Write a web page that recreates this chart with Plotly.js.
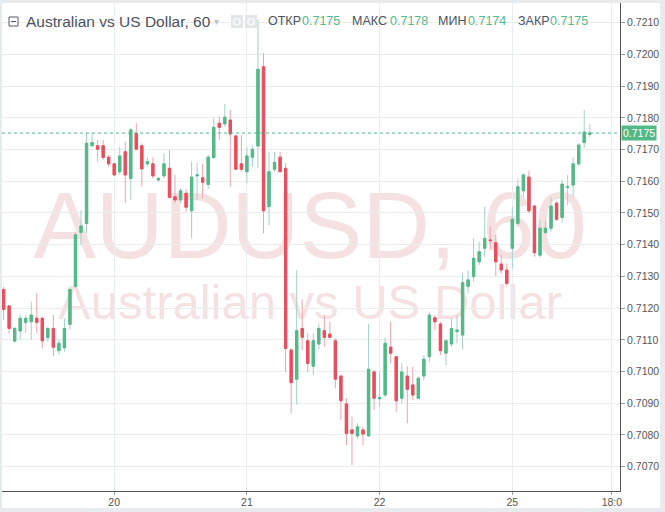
<!DOCTYPE html>
<html>
<head>
<meta charset="utf-8">
<script src="https://cdn.plot.ly/plotly-3.0.1.min.js"></script>
<style>
  html, body { margin: 0; padding: 0; background: #e8ebee; width: 665px; height: 512px; overflow: hidden; }
  #chart { position: absolute; left: 2px; top: 3px; width: 658px; height: 505px; background: #ffffff; }
</style>
</head>
<body>
<div id="chart"></div>
<script>
// ---- data (hourly AUDUSD candles) ----
const symbol = "AUDUSD";
const interval = "60";
const description = "Australian vs US Dollar";

const openPrices = [
  0.71259,0.71207,0.71096,0.71128,0.71155,0.71157,0.71168,0.71168,0.71107,0.71136,
  0.71066,0.71075,0.71149,0.71268,0.71439,0.71467,0.71712,0.71712,0.71712,0.71676,
  0.71655,0.71630,0.71693,0.71609,0.71751,0.71712,0.71655,0.71655,0.71604,0.71617,
  0.71641,0.71551,0.71541,0.71562,0.71507,0.71617,0.71611,0.71590,0.71675,0.71783,
  0.71781,0.71793,0.71743,0.71655,0.71630,0.71676,0.71711,0.71961,0.71520,0.71638,
  0.71676,0.71641,0.71068,0.70976,0.71136,0.71097,0.71017,0.71087,0.71129,0.71118,
  0.71097,0.70986,0.70898,0.70816,0.70797,0.70816,0.70797,0.70999,0.70914,0.70926,
  0.71077,0.71047,0.70916,0.70986,0.70958,0.70916,0.70986,0.71047,0.71170,0.71150,
  0.71058,0.71087,0.71126,0.71115,0.71268,0.71299,0.71346,0.71389,0.71415,0.71406,
  0.71339,0.71320,0.71389,0.71467,0.71570,0.71613,0.71522,0.71367,0.71438,0.71452,
  0.71531,0.71486,0.71581,0.71588,0.71655,0.71722,0.71748
];
const highPrices = [
  0.71267,0.71210,0.71141,0.71178,0.71178,0.71220,0.71247,0.71173,0.71141,0.71178,
  0.71101,0.71168,0.71268,0.71441,0.71509,0.71751,0.71751,0.71730,0.71730,0.71683,
  0.71657,0.71709,0.71725,0.71768,0.71783,0.71720,0.71676,0.71676,0.71614,0.71688,
  0.71699,0.71620,0.71578,0.71575,0.71662,0.71657,0.71655,0.71683,0.71799,0.71804,
  0.71844,0.71825,0.71746,0.71746,0.71709,0.71714,0.72110,0.72004,0.71693,0.71693,
  0.71693,0.71657,0.71073,0.71320,0.71228,0.71121,0.71121,0.71152,0.71178,0.71157,
  0.71105,0.70989,0.70916,0.70858,0.70837,0.70826,0.71150,0.71005,0.70999,0.71108,
  0.71157,0.71049,0.71026,0.71017,0.71015,0.70984,0.71052,0.71189,0.71178,0.71157,
  0.71101,0.71168,0.71178,0.71310,0.71320,0.71420,0.71409,0.71520,0.71457,0.71431,
  0.71367,0.71341,0.71520,0.71609,0.71625,0.71633,0.71525,0.71478,0.71475,0.71551,
  0.71536,0.71604,0.71620,0.71676,0.71720,0.71825,0.71780
];
const lowPrices = [
  0.71163,0.71121,0.71091,0.71101,0.71122,0.71100,0.71121,0.71073,0.71094,0.71049,
  0.71052,0.71063,0.71133,0.71263,0.71399,0.71436,0.71709,0.71662,0.71667,0.71646,
  0.71617,0.71620,0.71531,0.71541,0.71699,0.71583,0.71646,0.71609,0.71599,0.71609,
  0.71546,0.71531,0.71531,0.71504,0.71420,0.71541,0.71546,0.71575,0.71670,0.71730,
  0.71772,0.71583,0.71636,0.71630,0.71594,0.71646,0.71641,0.71436,0.71462,0.71630,
  0.71629,0.70999,0.70868,0.70895,0.71068,0.70999,0.70989,0.71070,0.71078,0.71105,
  0.70947,0.70847,0.70768,0.70705,0.70788,0.70768,0.70795,0.70879,0.70889,0.70921,
  0.71026,0.70873,0.70900,0.70837,0.70910,0.70913,0.70973,0.71031,0.71131,0.71052,
  0.71021,0.71078,0.71089,0.71070,0.71247,0.71283,0.71336,0.71362,0.71383,0.71301,
  0.71308,0.71268,0.71326,0.71457,0.71551,0.71499,0.71362,0.71360,0.71436,0.71441,
  0.71475,0.71469,0.71525,0.71551,0.71648,0.71704,0.71740
];
const closePrices = [
  0.71196,0.71136,0.71136,0.71168,0.71168,0.71178,0.71155,0.71097,0.71136,0.71077,
  0.71089,0.71136,0.71259,0.71431,0.71459,0.71720,0.71722,0.71701,0.71675,0.71655,
  0.71620,0.71680,0.71620,0.71762,0.71701,0.71639,0.71662,0.71617,0.71609,0.71655,
  0.71549,0.71541,0.71570,0.71518,0.71613,0.71620,0.71597,0.71676,0.71770,0.71770,
  0.71802,0.71749,0.71638,0.71638,0.71680,0.71701,0.71953,0.71507,0.71630,0.71659,
  0.71630,0.71073,0.70965,0.71129,0.71108,0.71026,0.71097,0.71136,0.71108,0.71108,
  0.70976,0.70908,0.70805,0.70805,0.70826,0.70803,0.71007,0.70916,0.70918,0.71089,
  0.71058,0.70908,0.70999,0.70944,0.70926,0.70979,0.71039,0.71178,0.71157,0.71066,
  0.71097,0.71136,0.71131,0.71280,0.71289,0.71357,0.71378,0.71420,0.71413,0.71346,
  0.71320,0.71278,0.71480,0.71583,0.71620,0.71507,0.71375,0.71452,0.71452,0.71522,
  0.71480,0.71591,0.71583,0.71655,0.71714,0.71755,0.71752
];
// date tick labels and the candle index (hour slot) where each day starts
const tickLabels = ["20", "21", "22", "25", "18:0"];
const tickSlots  = [20, 44, 68, 92, 110];
const priceTicks = [0.7070,0.7080,0.7090,0.7100,0.7110,0.7120,0.7130,0.7140,0.7150,0.7160,0.7170,0.7180,0.7190,0.7200,0.7210];

// ---- build ----
const slots = openPrices.map((_, i) => i);
const last = openPrices.length - 1;
const lastO = openPrices[last], lastH = highPrices[last], lastL = lowPrices[last], lastC = closePrices[last];
const bodyTop = openPrices.map((o, i) => Math.max(o, closePrices[i]));
const bodyBottom = openPrices.map((o, i) => Math.min(o, closePrices[i]));

const GREEN = '#53b987', RED = '#eb4d5c';
const GREEN_WICK = '#a3d3c6', RED_WICK = '#f2a2a9';
const FONT = 'Liberation Sans, Arial, sans-serif';

// page-pixel -> paper helpers (plot area: page x 2..620, y 3..491)
const P = X => (X - 2) / 618;
const Q = Y => (491 - Y) / 488;

// wicks (light) + bodies (solid) drawn on top
const wickTrace = {
  type: 'candlestick',
  x: slots,
  open: openPrices, high: highPrices, low: lowPrices, close: closePrices,
  increasing: { line: { color: GREEN_WICK, width: 1 }, fillcolor: GREEN_WICK },
  decreasing: { line: { color: RED_WICK, width: 1 }, fillcolor: RED_WICK },
  whiskerwidth: 0, hoverinfo: 'skip', showlegend: false
};
const bodyTrace = {
  type: 'candlestick',
  x: slots,
  open: openPrices, high: bodyTop, low: bodyBottom, close: closePrices,
  increasing: { line: { color: GREEN, width: 1 }, fillcolor: GREEN },
  decreasing: { line: { color: RED, width: 1 }, fillcolor: RED },
  whiskerwidth: 0, hoverinfo: 'skip', showlegend: false
};

const hdrY = Q(21.5);
const annotations = [
  { xref: 'paper', yref: 'paper', x: P(24), y: hdrY, xanchor: 'left', yanchor: 'middle',
    text: description + ', ' + interval, showarrow: false,
    font: { family: FONT, size: 15.5, color: '#4c525e' } },
  { xref: 'paper', yref: 'paper', x: P(217), y: hdrY, xanchor: 'center', yanchor: 'middle',
    text: '▾', showarrow: false, font: { family: 'DejaVu Sans', size: 10, color: '#c0c3c8' } }
];
const ohlcLabels = [
  ['ОТКР', lastO, 266, 300],
  ['МАКС', lastH, 350, 388],
  ['МИН',  lastL, 436, 466],
  ['ЗАКР', lastC, 516, 548]
];
ohlcLabels.forEach(([lab, val, xl, xv]) => {
  annotations.push({ xref: 'paper', yref: 'paper', x: P(xl), y: hdrY, xanchor: 'left', yanchor: 'middle',
    text: lab, showarrow: false, font: { family: FONT, size: 12.5, color: '#4c525e' } });
  annotations.push({ xref: 'paper', yref: 'paper', x: P(xv), y: hdrY, xanchor: 'left', yanchor: 'middle',
    text: val.toFixed(4), showarrow: false, font: { family: FONT, size: 12.5, color: GREEN } });
});
// price tag
annotations.push({ xref: 'paper', yref: 'y', x: 1, y: lastC, xanchor: 'left', yanchor: 'middle',
  xshift: 1, text: lastC.toFixed(4), showarrow: false, bgcolor: GREEN, borderpad: 1,
  font: { family: FONT, size: 10.5, color: '#ffffff' } });

const shapes = [
  // watermark (below grid and candles)
  { type: 'rect', xref: 'paper', yref: 'paper', x0: P(20), x1: P(600), y0: Q(262), y1: Q(170),
    line: { width: 0 }, fillcolor: 'rgba(0,0,0,0)', layer: 'below',
    label: { text: symbol + ', ' + interval, textposition: 'middle center',
      font: { family: FONT, size: 94, color: '#f6e1e2' } } },
  { type: 'rect', xref: 'paper', yref: 'paper', x0: P(20), x1: P(600), y0: Q(322), y1: Q(272),
    line: { width: 0 }, fillcolor: 'rgba(0,0,0,0)', layer: 'below',
    label: { text: description, textposition: 'middle center',
      font: { family: FONT, size: 49, color: '#f6e1e2' } } },
  // last price dotted line
  { type: 'line', xref: 'paper', yref: 'y', x0: 0, x1: 1, y0: lastC, y1: lastC,
    line: { color: GREEN, width: 1, dash: 'dot' } },
  // collapse icon
  { type: 'rect', xref: 'paper', yref: 'paper', x0: P(9), x1: P(18), y0: Q(26), y1: Q(17),
    line: { color: '#555b66', width: 1 }, fillcolor: 'rgba(0,0,0,0)' },
  { type: 'line', xref: 'paper', yref: 'paper', x0: P(11), x1: P(16), y0: Q(21.5), y1: Q(21.5),
    line: { color: '#555b66', width: 1 } },
  // settings icons
  { type: 'rect', xref: 'paper', yref: 'paper', x0: P(231), x1: P(243), y0: Q(28), y1: Q(15),
    line: { width: 0 }, fillcolor: '#e3e6e9' },
  { type: 'circle', xref: 'paper', yref: 'paper', x0: P(234), x1: P(240), y0: Q(25), y1: Q(18.5),
    line: { color: '#ffffff', width: 1.2 }, fillcolor: 'rgba(0,0,0,0)' },
  { type: 'rect', xref: 'paper', yref: 'paper', x0: P(245), x1: P(257), y0: Q(28), y1: Q(15),
    line: { width: 0 }, fillcolor: '#e3e6e9' },
  { type: 'circle', xref: 'paper', yref: 'paper', x0: P(248), x1: P(254), y0: Q(25), y1: Q(18.5),
    line: { color: '#ffffff', width: 1.2 }, fillcolor: 'rgba(0,0,0,0)' }
];

const layout = {
  width: 658, height: 505,
  margin: { l: 0, r: 40, t: 0, b: 17, pad: 0 },
  paper_bgcolor: '#ffffff', plot_bgcolor: '#ffffff',
  font: { family: FONT, size: 10.5, color: '#555555' },
  boxgap: 0.4,
  showlegend: false,
  xaxis: {
    range: [-0.29, 111.47], autorange: false, fixedrange: true,
    tickmode: 'array', tickvals: tickSlots, ticktext: tickLabels,
    showgrid: true, gridcolor: '#e9edf0', gridwidth: 1,
    showline: true, linecolor: '#555555', linewidth: 1,
    ticks: 'outside', ticklen: 3, tickcolor: '#9aa0a6', tickwidth: 1,
    ticklabelstandoff: -2,
    tickfont: { family: FONT, size: 10.5, color: '#555555' },
    zeroline: false, automargin: false,
    rangeslider: { visible: false }
  },
  yaxis: {
    side: 'right', range: [0.706234, 0.721621], autorange: false, fixedrange: true,
    tickmode: 'array', tickvals: priceTicks, ticktext: priceTicks.map(v => v.toFixed(4)),
    showgrid: true, gridcolor: '#e9edf0', gridwidth: 1,
    showline: true, linecolor: '#555555', linewidth: 1,
    ticks: 'outside', ticklen: 4, tickcolor: '#9aa0a6', tickwidth: 1,
    tickfont: { family: FONT, size: 10.5, color: '#555555' },
    zeroline: false, automargin: false
  },
  annotations: annotations,
  shapes: shapes
};

Plotly.newPlot('chart', [wickTrace, bodyTrace], layout, { staticPlot: true, displayModeBar: false });
</script>
</body>
</html>
